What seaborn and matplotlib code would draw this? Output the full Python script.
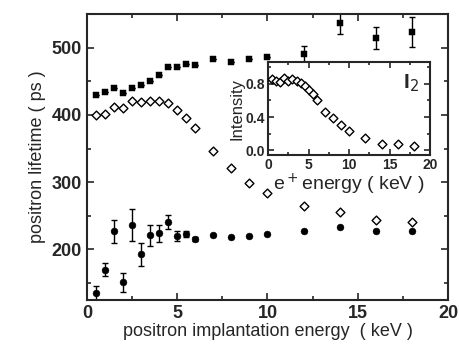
import numpy as np
import pandas as pd
import seaborn as sns
import matplotlib
matplotlib.use("Agg")
import matplotlib.pyplot as plt
from matplotlib.ticker import MultipleLocator, StrMethodFormatter

# implantation energies (keV)
energy = [0.5, 1, 1.5, 2, 2.5, 3, 3.5, 4, 4.5, 5, 5.5, 6, 7, 8, 9, 10, 12, 14, 16, 18]

# long lifetime tau3 (filled squares)
tau3 = [430, 434, 440, 433, 440, 444, 451, 460, 471, 472, 476, 474, 483, 478, 483, 486, 490, 536, 514, 523]
tau3_err = [0, 0, 0, 0, 0, 0, 0, 0, 0, 0, 0, 0, 0, 0, 0, 0, 13, 15, 16, 22]

# tau2 (open diamonds)
tau2 = [400, 401, 412, 410, 420, 419, 421, 421, 418, 407, 395, 381, 347, 321, 299, 284, 265, 255, 244, 241]

# tau1 (filled circles)
tau1 = [135, 170, 227, 151, 236, 193, 221, 224, 241, 220, 223, 215, 221, 219, 220, 223, 228, 233, 227, 228]
tau1_err = [10, 10, 17, 14, 24, 17, 16, 13, 10, 7, 4, 3, 0, 0, 0, 0, 0, 0, 0, 0]

# inset: intensity I2
inset_energy = [0.5, 1, 1.5, 2, 2.5, 3, 3.5, 4, 4.5, 5, 5.5, 6, 7, 8, 9, 10, 12, 14, 16, 18]
intensity = [0.86, 0.83, 0.82, 0.87, 0.84, 0.86, 0.84, 0.81, 0.78, 0.73, 0.68, 0.61, 0.46, 0.39, 0.30, 0.23, 0.15, 0.07, 0.07, 0.05]

sns.set_style("ticks")
plt.rcParams['font.family'] = ['Liberation Sans', 'DejaVu Sans']

df = pd.DataFrame({"E": energy, "tau1": tau1, "tau2": tau2, "tau3": tau3,
                   "e1": tau1_err, "e3": tau3_err})
df_in = pd.DataFrame({"E": inset_energy, "I2": intensity})

fig = plt.figure(figsize=(4.6, 3.6), dpi=100)
ax = fig.add_axes([0.189, 0.167, 0.785, 0.794])

# error bars first, markers on top
ax.errorbar(df["E"], df["tau3"], yerr=df["e3"], fmt="none", ecolor="black",
            elinewidth=1, capsize=2.5, capthick=1)
ax.errorbar(df["E"], df["tau1"], yerr=df["e1"], fmt="none", ecolor="black",
            elinewidth=1, capsize=2.5, capthick=1)
sns.scatterplot(data=df, x="E", y="tau3", marker="s", s=16, color="black",
                edgecolor="black", ax=ax, zorder=3)
sns.scatterplot(data=df, x="E", y="tau2", marker="D", s=20, facecolor="white",
                edgecolor="black", linewidth=1, ax=ax, zorder=3)
sns.scatterplot(data=df, x="E", y="tau1", marker="o", s=24, color="black",
                edgecolor="black", ax=ax, zorder=3)

ax.set_xlim(0, 20)
ax.set_ylim(125, 550)
ax.xaxis.set_major_locator(MultipleLocator(5))
ax.xaxis.set_minor_locator(MultipleLocator(2.5))
ax.yaxis.set_major_locator(MultipleLocator(100))
ax.yaxis.set_minor_locator(MultipleLocator(50))
ax.tick_params(which="both", direction="in", top=True, right=True, width=1.2)
ax.tick_params(which="major", length=5, labelsize=13)
ax.tick_params(which="minor", length=3)
for lab in ax.get_xticklabels() + ax.get_yticklabels():
    lab.set_fontweight("bold")
for s in ax.spines.values():
    s.set_linewidth(1.5)
ax.set_xlabel("positron implantation energy  ( keV )", fontsize=13, labelpad=1)
ax.set_ylabel("positron lifetime ( ps )", fontsize=13, labelpad=4)

# inset
axin = fig.add_axes([0.583, 0.569, 0.352, 0.258])
sns.scatterplot(data=df_in, x="E", y="I2", marker="D", s=20, facecolor="white",
                edgecolor="black", linewidth=1, ax=axin, zorder=3)
axin.set_xlim(0, 20)
axin.set_ylim(-0.06, 1.06)
axin.xaxis.set_major_locator(MultipleLocator(5))
axin.xaxis.set_minor_locator(MultipleLocator(2.5))
axin.yaxis.set_major_locator(MultipleLocator(0.4))
axin.yaxis.set_minor_locator(MultipleLocator(0.2))
axin.yaxis.set_major_formatter(StrMethodFormatter("{x:.1f}"))
axin.tick_params(which="both", direction="in", top=True, right=True, width=1.2)
axin.tick_params(which="major", length=4, labelsize=10, pad=2)
axin.tick_params(which="minor", length=2)
for lab in axin.get_xticklabels() + axin.get_yticklabels():
    lab.set_fontweight("bold")
for s in axin.spines.values():
    s.set_linewidth(1.5)
axin.set_xlabel(r"e$^+$energy ( keV )", fontsize=14, labelpad=0)
axin.set_ylabel("Intensity", fontsize=12, labelpad=1)
axin.text(0.93, 0.78, r"I$_2$", transform=axin.transAxes, fontsize=15,
          fontweight="bold", ha="right", va="center")

fig.savefig("out.png", dpi=100)
